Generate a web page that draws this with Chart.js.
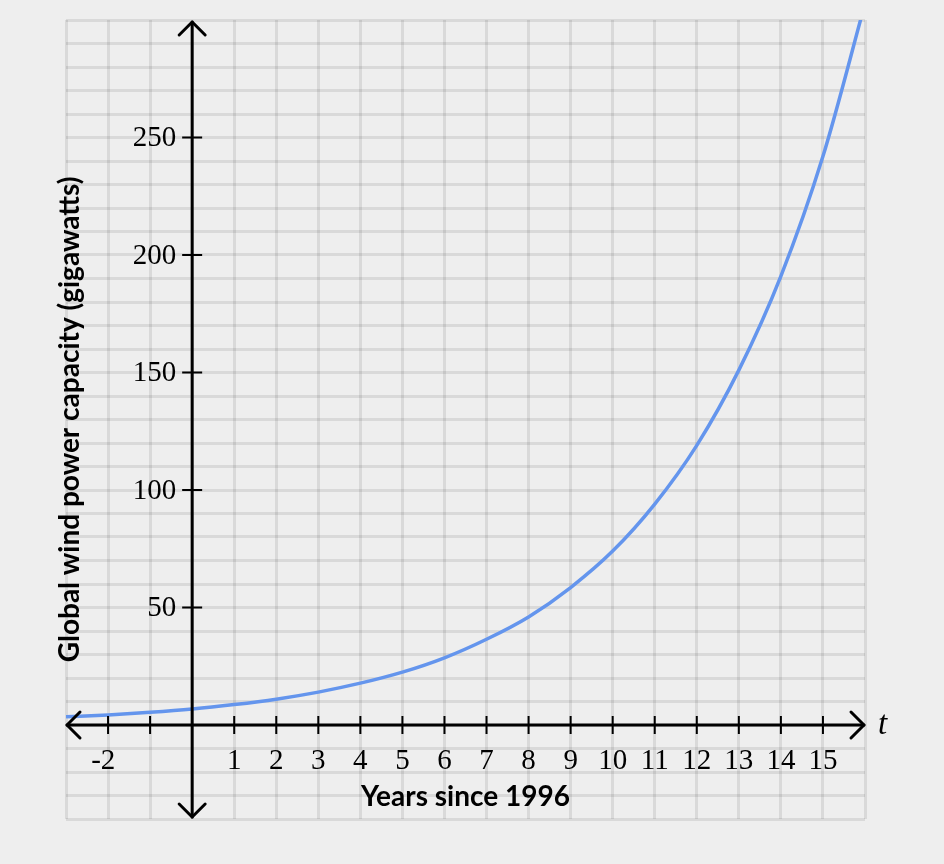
<!DOCTYPE html>
<html>
<head>
<meta charset="utf-8">
<title>Global wind power capacity</title>
<script src="https://cdn.jsdelivr.net/npm/chart.js@4.4.1/dist/chart.umd.min.js"></script>
<style>
    html, body { margin: 0; padding: 0; background: #eeeeee; }
    #wrap { width: 944px; height: 864px; }
</style>
</head>
<body>
<div id="wrap"><canvas id="windChart" width="944" height="864"></canvas></div>
<script>
// years since 1996 and capacity (GW)
const years = [-3, -2, -1, 0, 1, 2, 3, 4, 5, 6, 7, 8, 9, 10, 11, 12, 13, 14, 15, 16];
const capacity = [3.5, 4.3, 5.4, 6.8, 8.7, 11, 14, 17.8, 22.5, 28.6, 36.5, 46, 58.5, 74, 94, 119, 151, 191, 242, 307];

const xTickValues = [-2, -1, 1, 2, 3, 4, 5, 6, 7, 8, 9, 10, 11, 12, 13, 14, 15];
const xTickLabels = ["-2", "", "1", "2", "3", "4", "5", "6", "7", "8", "9", "10", "11", "12", "13", "14", "15"];
const yTickValues = [50, 100, 150, 200, 250];
const yTickLabels = ["50", "100", "150", "200", "250"];

const xTitle = "Years since 1996";
const yTitle = "Global wind power capacity (gigawatts)";

function arrowHead(ctx, tx, ty, dx, dy) {
    // open chevron, tip at (tx, ty) pointing along (dx, dy)
    const len = 13;
    const px = -dy, py = dx;
    ctx.beginPath();
    ctx.moveTo(tx - dx * len + px * len, ty - dy * len + py * len);
    ctx.lineTo(tx, ty);
    ctx.lineTo(tx - dx * len - px * len, ty - dy * len - py * len);
    ctx.stroke();
}

const zeroAxes = {
    id: "zeroAxes",
    afterDatasetsDraw(chart) {
        const { ctx, chartArea } = chart;
        const x = chart.scales.x;
        const y = chart.scales.y;
        const x0 = x.getPixelForValue(0);
        const y0 = y.getPixelForValue(0);

        ctx.save();
        ctx.strokeStyle = "#000";
        ctx.lineWidth = 3;
        ctx.lineCap = "round";
        ctx.lineJoin = "round";

        // axis lines
        ctx.beginPath();
        ctx.moveTo(chartArea.left + 1, y0);
        ctx.lineTo(chartArea.right - 1, y0);
        ctx.moveTo(x0, chartArea.top + 2);
        ctx.lineTo(x0, chartArea.bottom - 2);
        ctx.stroke();

        arrowHead(ctx, chartArea.left + 1, y0, -1, 0);
        arrowHead(ctx, chartArea.right - 1, y0, 1, 0);
        arrowHead(ctx, x0, chartArea.top + 2, 0, -1);
        arrowHead(ctx, x0, chartArea.bottom - 2, 0, 1);

        // tick marks
        ctx.lineWidth = 2;
        ctx.lineCap = "butt";
        ctx.beginPath();
        xTickValues.forEach((v) => {
            const px = x.getPixelForValue(v);
            ctx.moveTo(px, y0 - 9);
            ctx.lineTo(px, y0 + 9);
        });
        yTickValues.forEach((v) => {
            const py = y.getPixelForValue(v);
            ctx.moveTo(x0 - 10, py);
            ctx.lineTo(x0 + 10, py);
        });
        ctx.stroke();

        // tick labels
        ctx.fillStyle = "#000";
        ctx.font = "29px 'Liberation Serif', serif";
        ctx.textBaseline = "middle";
        ctx.textAlign = "center";
        xTickValues.forEach((v, i) => {
            const label = xTickLabels[i];
            if (!label) return;
            let px = x.getPixelForValue(v);
            if (label.startsWith("-")) px -= ctx.measureText("-").width / 2;
            ctx.fillText(label, px, y0 + 36);
        });
        ctx.textAlign = "right";
        yTickValues.forEach((v, i) => {
            ctx.fillText(yTickLabels[i], x0 - 16, y.getPixelForValue(v) + 1);
        });

        // variable name at the arrow
        ctx.textAlign = "left";
        ctx.font = "italic 33px 'Liberation Serif', serif";
        ctx.fillText("t", chartArea.right + 13, y0);

        // axis titles
        ctx.font = "bold 28px Lato, sans-serif";
        ctx.textAlign = "center";
        ctx.fillText(xTitle, (chartArea.left + chartArea.right) / 2, 797);
        ctx.translate(70, (chartArea.top + chartArea.bottom) / 2);
        ctx.rotate(-Math.PI / 2);
        ctx.fillText(yTitle, 0, 0);
        ctx.restore();
    },
};

const points = years.map((t, i) => ({ x: t, y: capacity[i] }));

new Chart(document.getElementById("windChart"), {
    type: "line",
    data: {
        datasets: [
            {
                label: "Capacity",
                data: points,
                borderColor: "#6495ed",
                borderWidth: 3.5,
                pointRadius: 0,
                fill: false,
                cubicInterpolationMode: "monotone",
            },
        ],
    },
    options: {
        responsive: false,
        animation: false,
        devicePixelRatio: 1,
        layout: {
            padding: { left: 66, top: 20, right: 79, bottom: 45 },
        },
        plugins: {
            legend: { display: false },
            tooltip: { enabled: false },
        },
        scales: {
            x: {
                type: "linear",
                min: -3,
                max: 16,
                ticks: { display: false, stepSize: 1 },
                grid: { color: "rgba(0, 0, 0, 0.085)", lineWidth: 3, drawTicks: false },
                border: { display: false },
            },
            y: {
                type: "linear",
                min: -40,
                max: 300,
                ticks: { display: false, stepSize: 10 },
                grid: { color: "rgba(0, 0, 0, 0.085)", lineWidth: 3, drawTicks: false },
                border: { display: false },
            },
        },
    },
    plugins: [zeroAxes],
});
</script>
</body>
</html>
